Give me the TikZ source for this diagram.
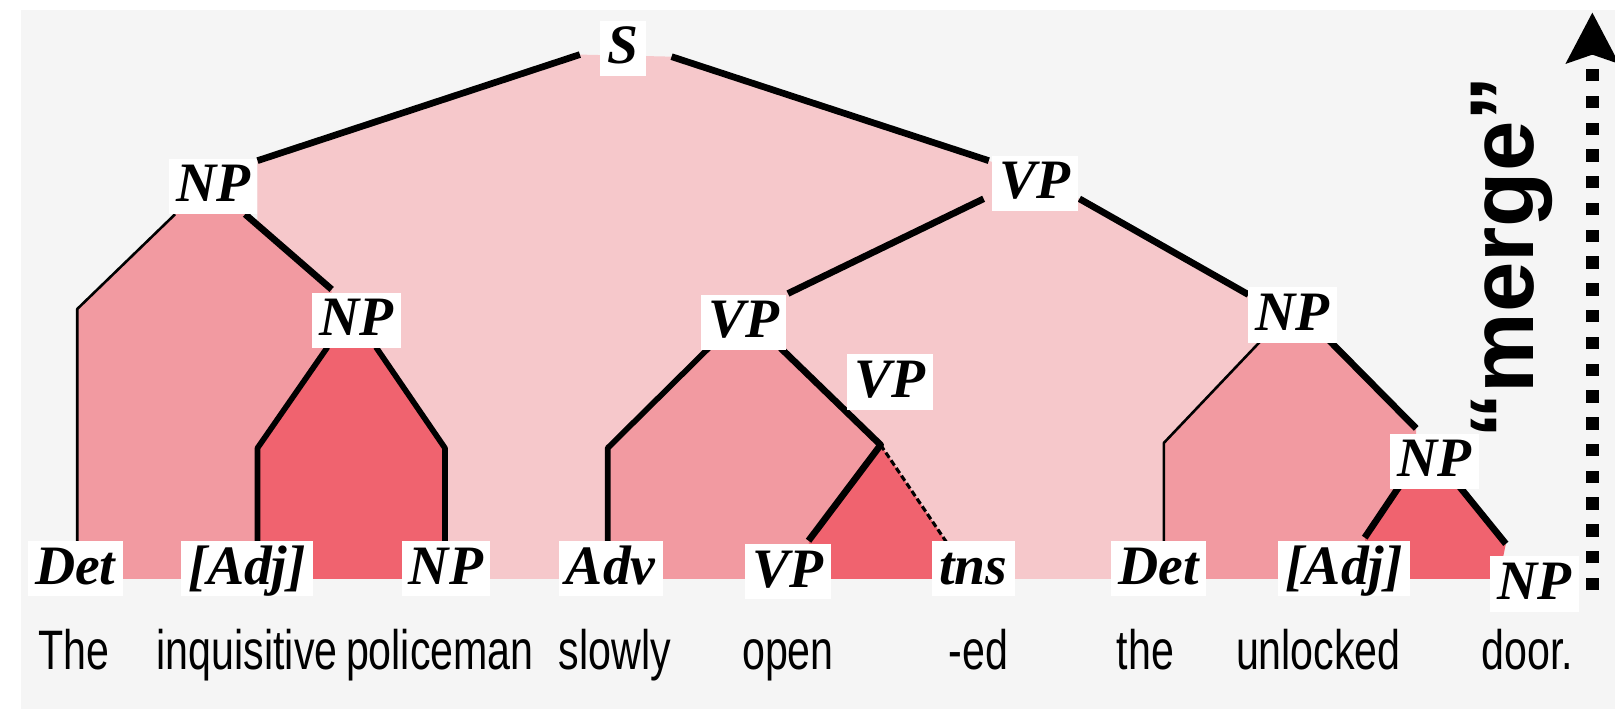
\documentclass[tikz,border=0pt]{standalone}
\usepackage{fontspec}
\usetikzlibrary{arrows.meta}
\newfontfamily\labfont{Liberation Serif}
\newfontfamily\wordfont[FakeStretch=0.74]{Liberation Sans}
\newfontfamily\mergefont{Liberation Sans}
\definecolor{bgc}{HTML}{F5F5F5}
\definecolor{pinkL}{HTML}{F6C8CB}
\definecolor{pinkM}{HTML}{F29AA1}
\definecolor{pinkD}{HTML}{F0636F}
\tikzset{
 lab/.style={fill=white, inner xsep=7pt, inner ysep=6pt, text height=36pt, text depth=6pt, anchor=base, font=\fontsize{54}{60}\labfont\bfseries\itshape},
 word/.style={anchor=base, inner sep=0pt, font=\fontsize{54}{60}\wordfont},
 brthick/.style={line width=6.5pt, line join=round},
 brmid/.style={line width=5.5pt, line join=round},
 brthin/.style={line width=2.5pt, line join=round},
 brdash/.style={line width=3pt, dash pattern=on 6pt off 3pt},
}
\begin{document}
\begin{tikzpicture}[x=1pt,y=-1pt]
\useasboundingbox (0,0) rectangle (1568,688);
\fill[white] (0,0) rectangle (1568,688);
\fill[bgc] (20,10) rectangle (1568,688);
% coordinates
\coordinate (npaR) at (250,156);
\coordinate (sL) at (563,53);
\coordinate (sR) at (652,55);
\coordinate (vpaL) at (960,156);
\coordinate (vpaBL) at (955,193);
\coordinate (vpaBR) at (1048,193);
\coordinate (npcT) at (1212,286);
\coordinate (npaBL) at (170,208);
\coordinate (npaBR) at (238,208);
\coordinate (det1T) at (75,300);
\coordinate (det1B) at (75,528);
\coordinate (npbT) at (322,281);
\coordinate (npbBL) at (318,337);
\coordinate (npbBR) at (365,337);
\coordinate (adj1K) at (250,435);
\coordinate (adj1B) at (250,528);
\coordinate (np1K) at (432,435);
\coordinate (np1B) at (432,528);
\coordinate (vpbTR) at (765,285);
\coordinate (vpbBL) at (688,338);
\coordinate (vpbBR) at (758,338);
\coordinate (advK) at (590,435);
\coordinate (advB) at (590,528);
\coordinate (jn) at (855,432);
\coordinate (vp1T) at (785,525);
\coordinate (tnsT) at (920,528);
\coordinate (npcBL) at (1225,330);
\coordinate (npcBR) at (1290,330);
\coordinate (det2K) at (1130,430);
\coordinate (det2B) at (1130,528);
\coordinate (npdT) at (1375,416);
\coordinate (npdBL) at (1360,470);
\coordinate (npdBR) at (1415,470);
\coordinate (adj2T) at (1325,522);
\coordinate (np2T) at (1462,528);
% fills
\fill[pinkL] (npaR) -- (sL) -- (sR) -- (vpaL) -- (vpaBR) -- (npcT) -- (npcBL) -- (det2K) -- (1130,562) -- (250,562) -- cycle;
\fill[pinkM] (det1T) -- (npaBL) -- (npaBR) -- (npbT) -- (322,340) -- (adj1K) -- (250,562) -- (75,562) -- cycle;
\fill[pinkD] (adj1K) -- (npbBL) -- (npbBR) -- (np1K) -- (432,562) -- (250,562) -- cycle;
\fill[pinkM] (advK) -- (vpbBL) -- (vpbBR) -- (jn) -- (vp1T) -- (785,562) -- (590,562) -- cycle;
\fill[pinkD] (jn) -- (tnsT) -- (920,562) -- (785,562) -- (vp1T) -- cycle;
\fill[pinkM] (det2K) -- (npcBL) -- (npcBR) -- (npdT) -- (1375,470) -- (adj2T) -- (1325,562) -- (1130,562) -- cycle;
\fill[pinkD] (adj2T) -- (npdBL) -- (npdBR) -- (np2T) -- (1455,562) -- (1325,562) -- cycle;
% branches
\draw[brthick] (npaR) -- (sL);
\draw[brthick] (sR) -- (vpaL);
\draw[brthick] (npaBR) -- (npbT);
\draw[brthick] (vpaBL) -- (vpbTR);
\draw[brthick] (vpaBR) -- (npcT);
\draw[brthick] (vpbBR) -- (jn) -- (vp1T);
\draw[brthick] (npcBR) -- (npdT);
\draw[brthick] (npdBL) -- (adj2T);
\draw[brthick] (npdBR) -- (np2T);
\draw[brmid] (npbBL) -- (adj1K) -- (adj1B);
\draw[brmid] (npbBR) -- (np1K) -- (np1B);
\draw[brmid] (vpbBL) -- (advK) -- (advB);
\draw[brthin] (npaBL) -- (det1T) -- (det1B);
\draw[brthin] (npcBL) -- (det2K) -- (det2B);
\draw[brdash] (jn) -- (tnsT);
% labels
\node[lab] (S) at (605,62) {S};
\node[lab] (NPa) at (207,196) {NP};
\node[lab] (VPa) at (1005,193) {VP};
\node[lab] (NPb) at (346,326) {NP};
\node[lab] (VPb) at (722,328) {VP};
\node[lab] (VPc) at (864,386) {VP};
\node[lab] (NPc) at (1255,321) {NP};
\node[lab] (NPd) at (1393,463) {NP};
\node[lab] (Det1) at (73,567) {Det};
\node[lab] (Adj1) at (240,567) {[Adj]};
\node[lab] (NP1) at (433,567) {NP};
\node[lab] (Adv) at (593,567) {Adv};
\node[lab] (VP1) at (765,570) {VP};
\node[lab] (tns) at (945,567) {tns};
\node[lab] (Det2) at (1125,567) {Det};
\node[lab] (Adj2) at (1305,567) {[Adj]};
\node[lab] (NP2) at (1490,582) {NP};
% words
\node[word] (w1) at (72,650) {The};
\node[word] (w2) at (240,650) {inquisitive};
\node[word] (w3) at (427,650) {policeman};
\node[word] (w4) at (597,650) {slowly};
\node[word] (w5) at (765,650) {open};
\node[word] (w6) at (950,650) {-ed};
\node[word] (w7) at (1112,650) {the};
\node[word] (w8) at (1280,650) {unlocked};
\node[word] (w9) at (1483,650) {door.};
% merge
\node[rotate=90, inner sep=0pt, font=\fontsize{88}{90}\mergefont\bfseries] (merge) at (1468,250) {“merge”};
\coordinate (arB) at (1546,573);
\coordinate (arT) at (1546,12);
\draw[line width=12.5pt, dash pattern=on 12pt off 14pt, -{Stealth[length=49pt,width=50pt,inset=8pt]}] (arB) -- (arT);
\end{tikzpicture}
\end{document}
